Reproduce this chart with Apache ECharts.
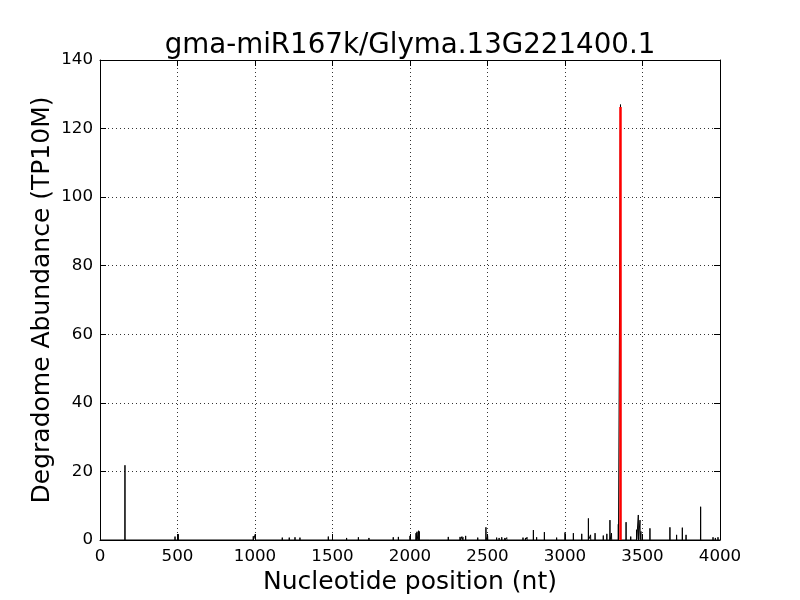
<!DOCTYPE html>
<html>
<head>
<meta charset="utf-8">
<script src="https://cdn.jsdelivr.net/npm/echarts@6/dist/echarts.min.js"></script>
<style>html,body{margin:0;padding:0;background:#fff}#c{width:800px;height:600px}</style>
</head>
<body>
<div id="c"></div>
<script>
var titleText = "gma-miR167k/Glyma.13G221400.1";
var xName = "Nucleotide position (nt)";
var yName = "Degradome Abundance (TP10M)";
var xTicks = [0, 500, 1000, 1500, 2000, 2500, 3000, 3500, 4000];
var yTicks = [0, 20, 40, 60, 80, 100, 120, 140];
var spikePositions = [161, 484, 505, 989, 1002, 1176, 1221, 1258, 1290, 1473, 1591, 1667, 1735, 1892, 1925, 2000,
  2039, 2045, 2055, 2060, 2129, 2247, 2323, 2335, 2342, 2359, 2437, 2490, 2501, 2559, 2575, 2592, 2612, 2624,
  2729, 2745, 2755, 2796, 2817, 2867, 2946, 3000, 3054, 3108, 3151, 3165, 3194, 3247, 3270, 3290, 3300, 3344,
  3358, 3394, 3424, 3462, 3473, 3484, 3490, 3548, 3677, 3720, 3757, 3781, 3875, 3955, 3970, 3987];
var spikeValues = [21.8, 1.0, 1.7, 1.1, 1.7, 0.7, 0.7, 0.8, 0.7, 1.0, 0.6, 0.8, 0.6, 0.8, 0.9, 1.2,
  2.0, 2.4, 2.7, 2.5, 0.5, 0.9, 0.9, 1.0, 0.8, 1.2, 0.7, 3.7, 1.2, 0.7, 0.6, 0.8, 0.6, 0.7,
  0.7, 0.6, 0.8, 2.9, 0.8, 2.3, 0.7, 2.2, 2.0, 1.8, 6.3, 1.5, 2.0, 1.3, 1.8, 5.8, 2.0, 4.6,
  127, 5.2, 1.0, 3.0, 7.3, 5.8, 2.5, 3.4, 3.7, 1.5, 3.6, 1.5, 9.7, 0.8, 0.6, 0.8];
var targetPosition = [3358];
var targetValue = [126.3];

var lineData = [[0, 0]];
for (var i = 0; i < spikePositions.length; i++) {
  var p = spikePositions[i];
  lineData.push([p - 1, 0]);
  lineData.push([p, spikeValues[i]]);
  lineData.push([p + 1, 0]);
}
lineData.push([4000, 0]);
var redData = [[targetPosition[0], 0], [targetPosition[0], targetValue[0]]];

var FONT = "DejaVu Sans";
var chart = echarts.init(document.getElementById('c'), null, {renderer: 'canvas'});
var grid = {left: 100, right: 80, top: 60, bottom: 60, containLabel: false, show: false};
var dotted = {show: true, lineStyle: {color: '#000', width: 0.8, type: [1, 3]}};
chart.setOption({
  animation: false,
  backgroundColor: '#fff',
  title: {
    text: titleText, left: 405, top: 27, textAlign: 'center',
    textStyle: {fontFamily: FONT, fontSize: 27.7, fontWeight: 'normal', color: '#000'}
  },
  grid: grid,
  xAxis: [{
    type: 'value', min: 0, max: 4000, interval: 500, position: 'bottom',
    name: xName, nameLocation: 'middle', nameGap: 30,
    nameTextStyle: {fontFamily: FONT, fontSize: 25, color: '#000'},
    axisLine: {show: true, onZero: false, lineStyle: {color: '#000', width: 1}},
    axisTick: {show: true, inside: true, length: 6, lineStyle: {color: '#000'}},
    axisLabel: {fontFamily: FONT, fontSize: 16.7, color: '#000', margin: 8,
      formatter: function (v) { return xTicks.indexOf(v) >= 0 ? String(v) : ''; }},
    splitLine: dotted
  }, {
    type: 'value', min: 0, max: 4000, interval: 500, position: 'top',
    axisLine: {show: true, onZero: false, lineStyle: {color: '#000', width: 1}},
    axisTick: {show: true, inside: true, length: 6, lineStyle: {color: '#000'}},
    axisLabel: {show: false}, splitLine: {show: false}
  }],
  yAxis: [{
    type: 'value', min: 0, max: 140, interval: 20, position: 'left',
    name: yName, nameLocation: 'middle', nameGap: 45, nameRotate: 90, nameMoveOverlap: false,
    nameTextStyle: {fontFamily: FONT, fontSize: 25, color: '#000'},
    axisLine: {show: true, onZero: false, lineStyle: {color: '#000', width: 1}},
    axisTick: {show: true, inside: true, length: 6, lineStyle: {color: '#000'}},
    axisLabel: {fontFamily: FONT, fontSize: 16.7, color: '#000', margin: 7,
      formatter: function (v) { return yTicks.indexOf(v) >= 0 ? String(v) : ''; }},
    splitLine: dotted
  }, {
    type: 'value', min: 0, max: 140, interval: 20, position: 'right',
    axisLine: {show: true, onZero: false, lineStyle: {color: '#000', width: 1}},
    axisTick: {show: true, inside: true, length: 6, lineStyle: {color: '#000'}},
    axisLabel: {show: false}, splitLine: {show: false}
  }],
  series: [{
    type: 'line', data: lineData, xAxisIndex: 0, yAxisIndex: 0,
    showSymbol: false, symbol: 'none', lineStyle: {color: '#000', width: 1}, z: 3
  }, {
    type: 'line', data: redData, xAxisIndex: 0, yAxisIndex: 0,
    showSymbol: false, symbol: 'none', lineStyle: {color: '#ff0000', width: 2.5}, z: 4
  }]
});
</script>
</body>
</html>
